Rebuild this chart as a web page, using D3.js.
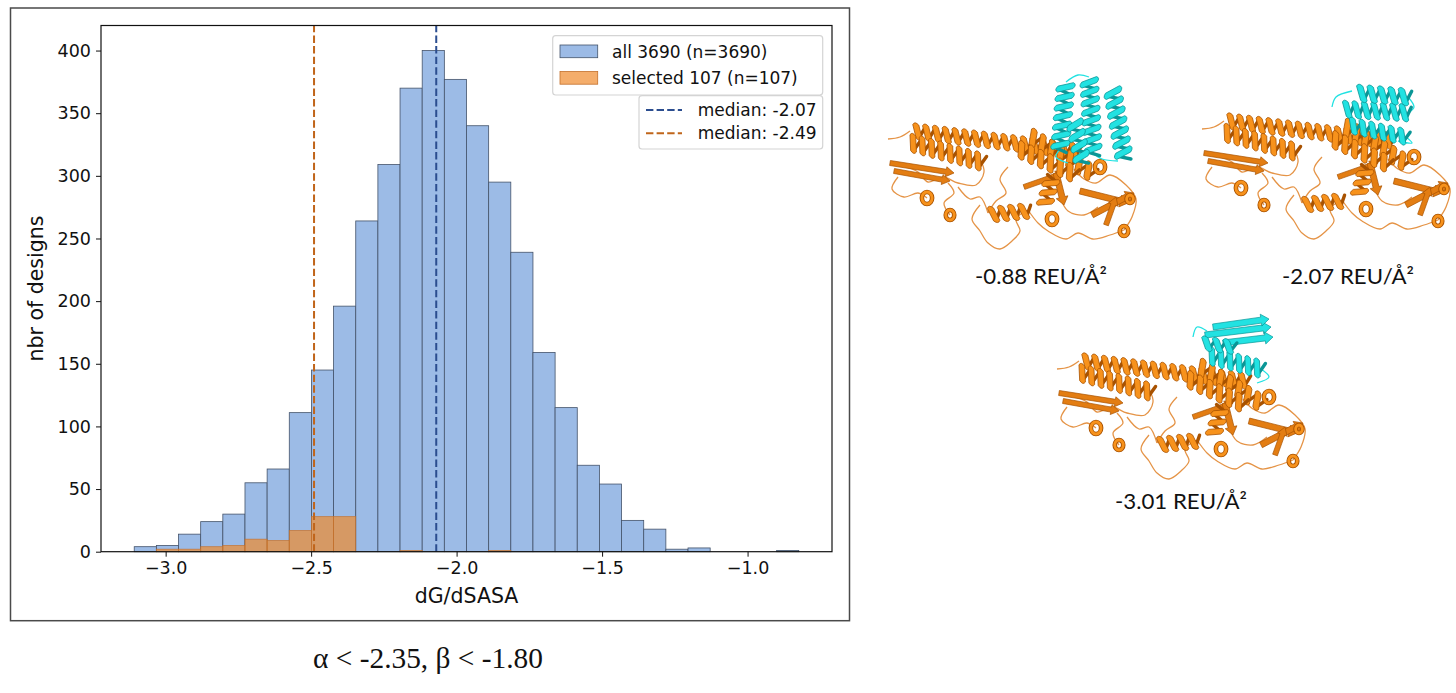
<!DOCTYPE html>
<html>
<head>
<meta charset="utf-8">
<script src="https://cdn.jsdelivr.net/npm/d3@7"></script>
<style>
  html, body { margin: 0; padding: 0; background: #fff; }
  svg { display: block; }
</style>
</head>
<body>
<svg id="fig" width="1456" height="693"></svg>
<script>
// ---- histogram data ----
const binLo = -3.108, binHi = -0.824, nBins = 30;
const allCounts = [4, 5, 14, 24, 30, 55, 66, 111, 145, 196, 264, 309, 370, 400, 377,
                   340, 295, 239, 159, 115, 69, 54, 25, 18, 2, 3, 0, 0, 0, 1];
const selCounts = [0, 2, 2, 4, 5, 10, 9, 17, 28, 28, 0, 0, 1, 0, 0,
                   0, 1, 0, 0, 0, 0, 0, 0, 0, 0, 0, 0, 0, 0, 0];
const seriesLabels = ['all 3690 (n=3690)', 'selected 107 (n=107)'];
const medianValues = [-2.07, -2.49];
const medianLabels = ['median: -2.07', 'median: -2.49'];
const xTicks = [-3.0, -2.5, -2.0, -1.5, -1.0];
const yTicks = [0, 50, 100, 150, 200, 250, 300, 350, 400];
const energyLabels = ['-0.88 REU/Å²', '-2.07 REU/Å²', '-3.01 REU/Å²'];
const caption = 'α < -2.35, β < -1.80';

const BLUE = '#9cbbe6', BLUE_EDGE = '#44536a';
const ORANGE = '#f08a2c', ORANGE_EDGE = '#c4702c';
const MED_COLORS = ['#2b4d8f', '#c0651a'];
const FONT = 'DejaVu Sans, sans-serif';

const svg = d3.select('#fig');
const M = { l: 101, t: 25.5, r: 832, b: 551.7 };

const x = d3.scaleLinear().domain([-3.2222, -0.7098]).range([M.l, M.r]);
const y = d3.scaleLinear().domain([0, 420]).range([M.b, M.t]);

const bw = (binHi - binLo) / nBins;
const bins = allCounts.map((c, i) => ({ x0: binLo + i * bw, x1: binLo + (i + 1) * bw, all: c, sel: selCounts[i] }));

// outer figure frame
svg.append('rect').attr('x', 10.5).attr('y', 8).attr('width', 839).attr('height', 612.7)
  .attr('fill', '#fff').attr('stroke', '#4a4a4a').attr('stroke-width', 1.5);

const plot = svg.append('g');

// blue bars
plot.append('g').selectAll('rect').data(bins.filter(d => d.all > 0)).enter().append('rect')
  .attr('x', d => x(d.x0)).attr('width', d => x(d.x1) - x(d.x0))
  .attr('y', d => y(d.all)).attr('height', d => y(0) - y(d.all))
  .attr('fill', BLUE).attr('stroke', BLUE_EDGE).attr('stroke-width', 0.8);

// orange bars
plot.append('g').selectAll('rect').data(bins.filter(d => d.sel > 0)).enter().append('rect')
  .attr('x', d => x(d.x0)).attr('width', d => x(d.x1) - x(d.x0))
  .attr('y', d => y(d.sel)).attr('height', d => y(0) - y(d.sel))
  .attr('fill', ORANGE).attr('fill-opacity', 0.7)
  .attr('stroke', ORANGE_EDGE).attr('stroke-opacity', 0.8).attr('stroke-width', 0.8);

// median lines
plot.append('g').selectAll('line').data(medianValues).enter().append('line')
  .attr('x1', d => x(d)).attr('x2', d => x(d)).attr('y1', M.b).attr('y2', M.t)
  .attr('stroke', (d, i) => MED_COLORS[i]).attr('stroke-width', 2)
  .attr('stroke-dasharray', '7.4,3.2');

// axes
const xAxis = plot.append('g').attr('transform', `translate(0,${M.b})`)
  .call(d3.axisBottom(x).tickValues(xTicks).tickSize(5).tickPadding(5).tickFormat(d3.format('.1f')));
const yAxis = plot.append('g').attr('transform', `translate(${M.l},0)`)
  .call(d3.axisLeft(y).tickValues(yTicks).tickSize(5).tickPadding(5));
[xAxis, yAxis].forEach(a => {
  a.select('.domain').remove();
  a.selectAll('text').attr('font-family', FONT).attr('font-size', 17.5).attr('fill', '#111');
  a.selectAll('line').attr('stroke', '#111').attr('stroke-width', 1);
});

plot.append('rect').attr('x', M.l).attr('y', M.t).attr('width', M.r - M.l).attr('height', M.b - M.t)
  .attr('fill', 'none').attr('stroke', '#111').attr('stroke-width', 1.2);

// axis labels
plot.append('text').attr('x', (M.l + M.r) / 2).attr('y', 603).attr('text-anchor', 'middle')
  .attr('font-family', FONT).attr('font-size', 20.5).attr('fill', '#111').text('dG/dSASA');
plot.append('text').attr('transform', `translate(43,${(M.t + M.b) / 2}) rotate(-90)`)
  .attr('text-anchor', 'middle').attr('font-family', FONT).attr('font-size', 20.5).attr('fill', '#111')
  .text('nbr of designs');

// legend 1 (patches)
const leg1 = plot.append('g');
leg1.append('rect').attr('x', 552.7).attr('y', 35.7).attr('width', 270).attr('height', 59.3).attr('rx', 3)
  .attr('fill', '#fff').attr('fill-opacity', 0.85).attr('stroke', '#d4d4d4').attr('stroke-width', 1.2);
seriesLabels.forEach((lab, i) => {
  const yy = 45 + i * 26.5;
  leg1.append('rect').attr('x', 560).attr('y', yy).attr('width', 37.7).attr('height', 12.7)
    .attr('fill', i ? ORANGE : BLUE).attr('fill-opacity', i ? 0.7 : 1)
    .attr('stroke', i ? ORANGE_EDGE : BLUE_EDGE).attr('stroke-width', 0.8);
  leg1.append('text').attr('x', 612).attr('y', yy + 12.5).attr('font-family', FONT)
    .attr('font-size', 17).attr('fill', '#111').text(lab);
});

// legend 2 (median lines)
const leg2 = plot.append('g');
leg2.append('rect').attr('x', 639).attr('y', 95.7).attr('width', 183.7).attr('height', 53.3).attr('rx', 3)
  .attr('fill', '#fff').attr('fill-opacity', 0.85).attr('stroke', '#d4d4d4').attr('stroke-width', 1.2);
medianLabels.forEach((lab, i) => {
  const yy = 110 + i * 23.3;
  leg2.append('line').attr('x1', 646).attr('x2', 682).attr('y1', yy).attr('y2', yy)
    .attr('stroke', MED_COLORS[i]).attr('stroke-width', 2).attr('stroke-dasharray', '7.4,3.2');
  leg2.append('text').attr('x', 697.7).attr('y', yy + 6).attr('font-family', FONT)
    .attr('font-size', 17).attr('fill', '#111').text(lab);
});

// caption under the figure
svg.append('text').attr('x', 428).attr('y', 668).attr('text-anchor', 'middle')
  .attr('font-family', 'Liberation Serif, Times New Roman, serif').attr('font-size', 30)
  .attr('textLength', 230).attr('lengthAdjust', 'spacingAndGlyphs')
  .attr('fill', '#111').text(caption);

// ---- schematic protein cartoons on the right ----
// helix drawn as slanted ribbon bands (front) over dark back strokes
function helix(g, a, b, r, pitch, col, dark) {
  const dx = b[0] - a[0], dy = b[1] - a[1], L = Math.hypot(dx, dy);
  const ux = dx / L, uy = dy / L, px = -uy, py = ux;
  const n = Math.max(1, Math.round(L / pitch)), P = L / n, w = P * 0.62;
  const pt = (s, h) => [a[0] + ux * s + px * h, a[1] + uy * s + py * h];
  const back = g.append('g'), front = g.append('g');
  for (let k = 0; k < n; k++) {
    const s0 = k * P;
    const b0 = pt(s0 + 0.5 * P + w * 0.5, r - 1), b1 = pt(s0 + P + w * 0.5, -r + 1);
    back.append('path').attr('d', `M${b0}L${b1}`).attr('stroke', dark).attr('stroke-width', 3.4)
      .attr('stroke-linecap', 'round');
    const tl = pt(s0, -r), tr = pt(s0 + w, -r), br = pt(s0 + 0.5 * P + w, r), bl = pt(s0 + 0.5 * P, r);
    const ct = pt(s0 + w * 0.5 - 1.5, -r - 4), cb = pt(s0 + 0.5 * P + w * 0.5 + 1.5, r + 4);
    front.append('path').attr('d', `M${tl}Q${ct} ${tr}L${br}Q${cb} ${bl}Z`)
      .attr('fill', col).attr('stroke', dark).attr('stroke-width', 0.8);
  }
}
function ring(g, c, r, col, dark) {
  g.append('ellipse').attr('cx', c[0]).attr('cy', c[1]).attr('rx', r * 0.85).attr('ry', r)
    .attr('fill', 'none').attr('stroke', dark).attr('stroke-width', 4.6);
  g.append('ellipse').attr('cx', c[0]).attr('cy', c[1]).attr('rx', r * 0.85).attr('ry', r)
    .attr('fill', 'none').attr('stroke', col).attr('stroke-width', 2.8);
}
function strand(g, a, b, w, col, dark) {
  const dx = b[0] - a[0], dy = b[1] - a[1], L = Math.hypot(dx, dy);
  const ux = dx / L, uy = dy / L, px = -uy, py = ux, h = 8;
  const m = [b[0] - ux * h, b[1] - uy * h];
  const p = [[a[0] + px * w / 2, a[1] + py * w / 2], [m[0] + px * w / 2, m[1] + py * w / 2],
             [m[0] + px * w, m[1] + py * w], b, [m[0] - px * w, m[1] - py * w],
             [m[0] - px * w / 2, m[1] - py * w / 2], [a[0] - px * w / 2, a[1] - py * w / 2]];
  g.append('path').attr('d', 'M' + p.join('L') + 'Z').attr('fill', col).attr('stroke', dark).attr('stroke-width', 0.7);
}
function loop(g, pts, col) {
  g.append('path').attr('d', d3.line().curve(d3.curveCatmullRom)(pts))
    .attr('fill', 'none').attr('stroke', col).attr('stroke-width', 1.3);
}

const OR = '#f7921c', OR_D = '#a85200', OR_L = '#e59447';
const CY = '#22e2e2', CY_D = '#0a9696';

const oLoops = [
  [[0, 12], [12, 10], [22, 4]],
  [[92, 32], [96, 45], [88, 58], [70, 56], [55, 50], [40, 55], [30, 45], [18, 40]],
  [[70, 60], [82, 72], [92, 70], [100, 86]],
  [[92, 78], [84, 92], [92, 104], [100, 116], [112, 122], [124, 114], [132, 104], [128, 92], [140, 83]],
  [[140, 83], [150, 96], [160, 104], [178, 112], [190, 106], [205, 112], [222, 108], [236, 103]],
  [[186, 42], [196, 52], [208, 56], [222, 48], [238, 58], [248, 72], [244, 90], [236, 103]],
  [[120, 40], [112, 52], [118, 66], [108, 74], [100, 86]],
  [[10, 50], [4, 62], [16, 70], [30, 66], [39, 71]],
  [[172, 70], [180, 84], [196, 88], [210, 80]],
  [[60, 56], [66, 66], [56, 76], [62, 88]]
];
const oHelices = [
  { a: [24, 4], b: [190, 24], r: 6.5 },
  { a: [20, 15], b: [94, 35], r: 7.5 },
  { a: [140, 8], b: [204, 46], r: 7 },
  { a: [128, 21], b: [186, 47], r: 7 },
  { a: [100, 88], b: [140, 84], r: 6.5 },
  { a: [156, 80], b: [164, 52], r: 6.5 }
];
const oRings = [[39, 71, 6], [62, 88, 5], [164, 92, 6], [212, 40, 6], [236, 104, 5], [242, 72, 4]];
const oStrands = [
  { a: [2, 36], b: [66, 46], w: 5 }, { a: [6, 44], b: [62, 54], w: 5 },
  { a: [136, 60], b: [176, 46], w: 5 }, { a: [168, 46], b: [176, 78], w: 6 },
  { a: [192, 64], b: [240, 76], w: 6 }, { a: [204, 88], b: [246, 66], w: 6 },
  { a: [218, 98], b: [228, 70], w: 5 }
];

const cyanParts = [
  { helices: [{ a: [178, -45], b: [172, 22], r: 7.5 }, { a: [201, -50], b: [205, 26], r: 7.5 },
              { a: [224, -40], b: [236, 30], r: 7.5 }, { a: [186, -8], b: [194, 34], r: 7 }],
    loops: [[[172, 22], [168, 30], [180, 36]], [[205, 26], [214, 32], [230, 34]], [[178, -45], [190, -52], [201, -50]]],
    strands: [] },
  { helices: [{ a: [140, -8], b: [206, -4], r: 7 }, { a: [154, -24], b: [206, -20], r: 7 },
              { a: [146, 8], b: [204, 20], r: 6.5 }],
    loops: [[[130, -10], [134, -20], [150, -26]], [[206, -20], [212, -10], [206, -4]], [[204, 20], [210, 26], [196, 24]]],
    strands: [] },
  { helices: [{ a: [150, -2], b: [204, 12], r: 7.5 }, { a: [144, -14], b: [176, -10], r: 5.5 }],
    loops: [[[136, -20], [140, -30], [150, -26]], [[204, 12], [212, 20], [200, 26]]],
    strands: [{ a: [148, -22], b: [214, -30], w: 6 }, { a: [156, -30], b: [212, -38], w: 6 }, { a: [166, -14], b: [216, -20], w: 6 }] }
];

function protein(ox, oy, variant) {
  const g = svg.append('g').attr('transform', `translate(${ox},${oy})`);
  oLoops.forEach(p => loop(g, p, OR_L));
  oStrands.forEach(d => strand(g, d.a, d.b, d.w, '#e37d12', OR_D));
  oHelices.forEach(d => helix(g, d.a, d.b, d.r, 10, OR, OR_D));
  oRings.forEach(d => ring(g, [d[0], d[1]], d[2], OR, OR_D));
  const c = cyanParts[variant];
  c.loops.forEach(p => loop(g, p, CY));
  c.strands.forEach(d => strand(g, d.a, d.b, d.w, CY, CY_D));
  c.helices.forEach(d => helix(g, d.a, d.b, d.r, 10, CY, CY_D));
}
protein(888, 127, 0);
protein(1202, 117, 1);
protein(1057, 357, 2);

const labelPos = [[1041, 284], [1348, 284], [1181, 509]];
svg.append('g').selectAll('text').data(energyLabels).enter().append('text')
  .attr('x', (d, i) => labelPos[i][0]).attr('y', (d, i) => labelPos[i][1])
  .attr('text-anchor', 'middle').attr('font-family', 'Lato, sans-serif').attr('font-size', 22)
  .attr('textLength', 132).attr('lengthAdjust', 'spacingAndGlyphs')
  .attr('fill', '#111').text(d => d);
</script>
</body>
</html>
